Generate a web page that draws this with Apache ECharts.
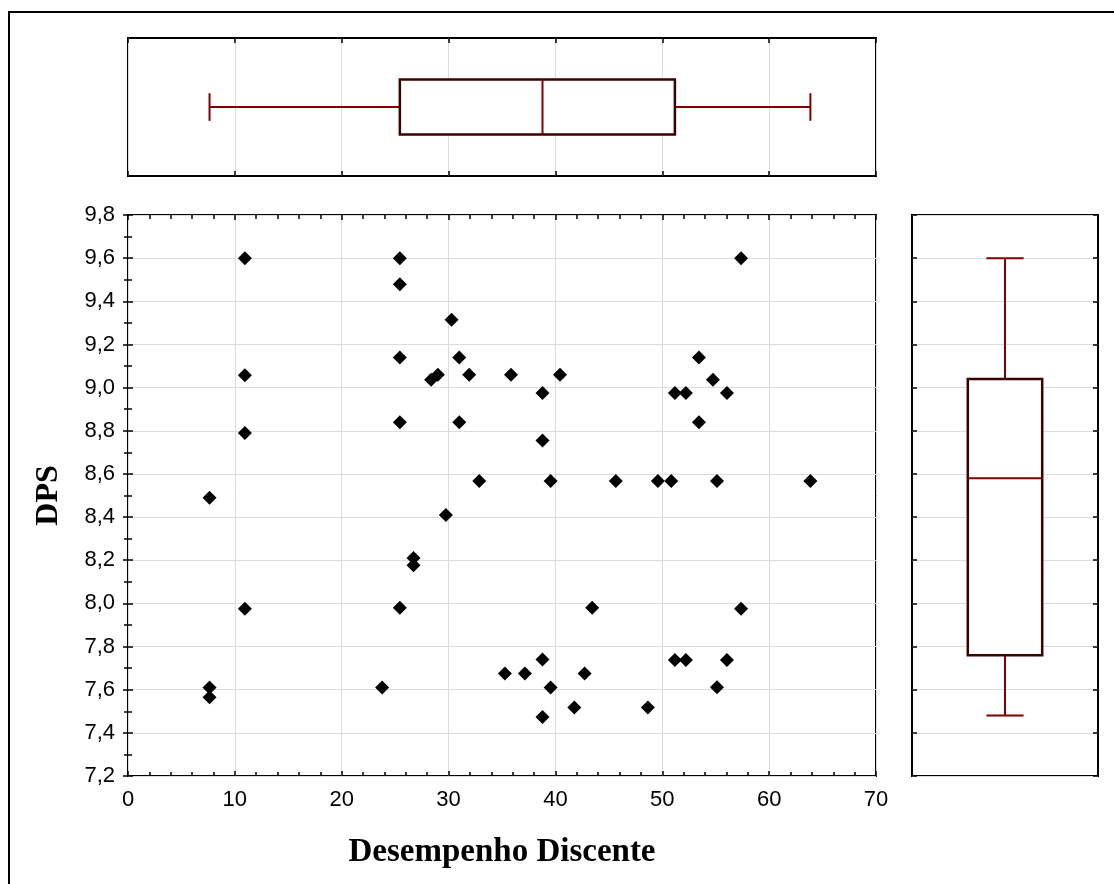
<!DOCTYPE html>
<html>
<head>
<meta charset="utf-8">
<script src="https://cdn.jsdelivr.net/npm/echarts@6/dist/echarts.min.js"></script>
<style>
html, body { margin: 0; padding: 0; background: #fff; }
#main { width: 1114px; height: 884px; }
</style>
</head>
<body>
<div id="main"></div>
<script>
// Desempenho Discente (x) x DPS (y)
var desempenho = [7.63, 7.63, 7.63, 10.94, 10.94, 10.94, 10.94, 23.78, 25.44, 25.44,
    25.44, 25.44, 25.44, 26.72, 26.72, 28.37, 29.0, 29.75, 30.28, 31.0,
    31.0, 31.93, 32.87, 35.27, 35.84, 37.14, 38.79, 38.79, 38.79, 38.79,
    39.55, 39.55, 40.43, 41.77, 42.73, 43.44, 45.65, 48.65, 49.59, 50.84,
    51.18, 52.21, 51.18, 52.21, 53.43, 53.43, 54.74, 55.12, 55.12, 56.05,
    56.05, 57.37, 57.37, 63.86];
var dps = [8.49, 7.61, 7.565, 9.6, 9.057, 8.79, 7.975, 7.61, 9.6, 9.479,
    9.14, 8.839, 7.98, 8.21, 8.177, 9.037, 9.06, 8.41, 9.315, 9.14,
    8.84, 9.06, 8.567, 7.675, 9.06, 7.675, 8.975, 8.755, 7.74, 7.473,
    8.567, 7.61, 9.06, 7.518, 7.675, 7.98, 8.567, 7.518, 8.567, 8.567,
    8.975, 8.975, 7.738, 7.738, 9.14, 8.84, 9.037, 8.567, 7.611, 8.975,
    7.738, 9.6, 7.975, 8.567];
// min, Q1, mediana, Q3, max
var boxDesempenho = [7.63, 25.44, 38.79, 51.18, 63.86];
var boxDps = [7.48, 7.76, 8.58, 9.04, 9.6];

var pontos = [];
for (var i = 0; i < desempenho.length; i++) {
    pontos.push([desempenho[i], dps[i]]);
}

var fmt = function (v) { return v.toFixed(1).replace('.', ','); };
var gridCor = '#dcdcdc';
var boxCor = '#3a0000';
var whiskerCor = '#800000';
var labelFont = { color: '#000', fontSize: 22, fontFamily: 'Liberation Sans, Arial, sans-serif' };

function tickIn(len) {
    return { show: true, inside: true, length: len, lineStyle: { color: '#000', width: 1.5 } };
}

// box horizontal (painel de cima)
function boxH(params, api) {
    var mn = api.value(0), q1 = api.value(1), md = api.value(2), q3 = api.value(3), mx = api.value(4);
    var a = api.coord([q1, 0.7]), b = api.coord([q3, 0.3]);
    var wl = { stroke: whiskerCor, lineWidth: 2 };
    function seg(x1, y1, x2, y2) {
        var p1 = api.coord([x1, y1]), p2 = api.coord([x2, y2]);
        return { type: 'line', shape: { x1: p1[0], y1: p1[1], x2: p2[0], y2: p2[1] }, style: wl };
    }
    return {
        type: 'group',
        children: [
            seg(mn, 0.5, q1, 0.5), seg(q3, 0.5, mx, 0.5),
            seg(mn, 0.4, mn, 0.6), seg(mx, 0.4, mx, 0.6),
            { type: 'rect', shape: { x: a[0], y: a[1], width: b[0] - a[0], height: b[1] - a[1] },
              style: { fill: '#fff', stroke: boxCor, lineWidth: 2.5 } },
            seg(md, 0.3, md, 0.7)
        ]
    };
}

// box vertical (painel da direita)
function boxV(params, api) {
    var mn = api.value(0), q1 = api.value(1), md = api.value(2), q3 = api.value(3), mx = api.value(4);
    var a = api.coord([0.3, q3]), b = api.coord([0.7, q1]);
    var wl = { stroke: whiskerCor, lineWidth: 2 };
    function seg(x1, y1, x2, y2) {
        var p1 = api.coord([x1, y1]), p2 = api.coord([x2, y2]);
        return { type: 'line', shape: { x1: p1[0], y1: p1[1], x2: p2[0], y2: p2[1] }, style: wl };
    }
    return {
        type: 'group',
        children: [
            seg(0.5, mn, 0.5, q1), seg(0.5, q3, 0.5, mx),
            seg(0.4, mn, 0.6, mn), seg(0.4, mx, 0.6, mx),
            { type: 'rect', shape: { x: a[0], y: a[1], width: b[0] - a[0], height: b[1] - a[1] },
              style: { fill: '#fff', stroke: boxCor, lineWidth: 2.5 } },
            seg(0.3, md, 0.7, md)
        ]
    };
}

var myChart = echarts.init(document.getElementById('main'));

var option = {
    backgroundColor: '#fff',
    animation: false,
    graphic: [{
        type: 'rect',
        shape: { x: 9, y: 12, width: 1200, height: 1000 },
        style: { fill: 'none', stroke: '#000', lineWidth: 2 },
        silent: true
    }],
    grid: [
        { left: 128, top: 215, width: 748, height: 561, show: true, borderColor: '#000', borderWidth: 2, backgroundColor: '#fff' },
        { left: 128, top: 38, width: 748, height: 138, show: true, borderColor: '#000', borderWidth: 2, backgroundColor: '#fff' },
        { left: 912, top: 215, width: 186, height: 561, show: true, borderColor: '#000', borderWidth: 2, backgroundColor: '#fff' }
    ],
    xAxis: [
        { gridIndex: 0, type: 'value', min: 0, max: 70, interval: 10, position: 'bottom',
          axisLine: { show: false }, axisTick: tickIn(5), minorTick: { show: true, splitNumber: 5, length: 4, lineStyle: { color: '#000', width: 1.5 } },
          axisLabel: Object.assign({ margin: 13 }, labelFont),
          splitLine: { show: true, lineStyle: { color: gridCor, width: 1 } },
          name: 'Desempenho Discente', nameLocation: 'middle', nameGap: 60,
          nameTextStyle: { fontFamily: 'Liberation Serif, Times New Roman, serif', fontWeight: 'bold', fontSize: 33, color: '#000' } },
        { gridIndex: 0, type: 'value', min: 0, max: 70, interval: 10, position: 'top',
          axisLine: { show: false }, axisTick: tickIn(5), minorTick: { show: true, splitNumber: 5, length: 4, lineStyle: { color: '#000', width: 1.5 } },
          axisLabel: { show: false }, splitLine: { show: false } },
        { gridIndex: 1, type: 'value', min: 0, max: 70, interval: 10, position: 'bottom',
          axisLine: { show: false }, axisTick: tickIn(5), axisLabel: { show: false },
          splitLine: { show: true, lineStyle: { color: gridCor, width: 1 } } },
        { gridIndex: 1, type: 'value', min: 0, max: 70, interval: 10, position: 'top',
          axisLine: { show: false }, axisTick: tickIn(5), axisLabel: { show: false }, splitLine: { show: false } },
        { gridIndex: 2, type: 'value', min: 0, max: 1, show: false }
    ],
    yAxis: [
        { gridIndex: 0, type: 'value', min: 7.2, max: 9.8, interval: 0.2, position: 'left',
          axisLine: { show: false }, axisTick: tickIn(5), minorTick: { show: true, splitNumber: 2, length: 4, lineStyle: { color: '#000', width: 1.5 } },
          axisLabel: Object.assign({ margin: 13, formatter: fmt }, labelFont),
          splitLine: { show: true, lineStyle: { color: gridCor, width: 1 } },
          name: 'DPS', nameLocation: 'middle', nameGap: 63,
          nameTextStyle: { fontFamily: 'Liberation Serif, Times New Roman, serif', fontWeight: 'bold', fontSize: 32, color: '#000' } },
        { gridIndex: 0, type: 'value', min: 7.2, max: 9.8, interval: 0.2, position: 'right',
          axisLine: { show: false }, axisTick: tickIn(5), minorTick: { show: true, splitNumber: 2, length: 4, lineStyle: { color: '#000', width: 1.5 } },
          axisLabel: { show: false }, splitLine: { show: false } },
        { gridIndex: 1, type: 'value', min: 0, max: 1, show: false },
        { gridIndex: 2, type: 'value', min: 7.2, max: 9.8, interval: 0.2, position: 'left',
          axisLine: { show: false }, axisTick: tickIn(5), axisLabel: { show: false },
          splitLine: { show: true, lineStyle: { color: gridCor, width: 1 } } },
        { gridIndex: 2, type: 'value', min: 7.2, max: 9.8, interval: 0.2, position: 'right',
          axisLine: { show: false }, axisTick: tickIn(5), axisLabel: { show: false }, splitLine: { show: false } }
    ],
    series: [
        {
            type: 'scatter',
            xAxisIndex: 0, yAxisIndex: 0,
            symbol: 'diamond',
            symbolSize: 14,
            itemStyle: { color: '#000', opacity: 1 },
            data: pontos
        },
        {
            type: 'custom',
            xAxisIndex: 2, yAxisIndex: 2,
            renderItem: boxH,
            data: [boxDesempenho]
        },
        {
            type: 'custom',
            xAxisIndex: 4, yAxisIndex: 3,
            renderItem: boxV,
            data: [boxDps]
        }
    ]
};

myChart.setOption(option);
</script>
</body>
</html>
